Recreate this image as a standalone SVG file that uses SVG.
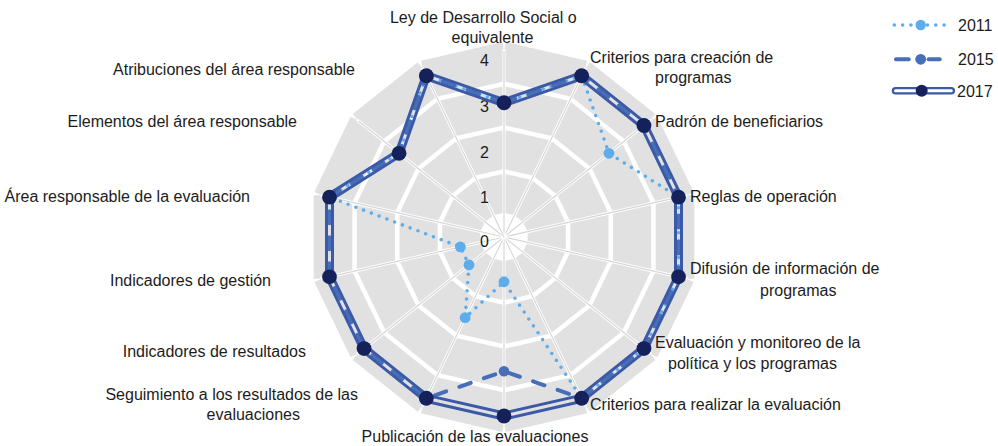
<svg xmlns="http://www.w3.org/2000/svg" xmlns:xlink="http://www.w3.org/1999/xlink" width="998" height="446" viewBox="0 0 998 446">
<style>
  text { font-family: "Liberation Sans", Arial, sans-serif; font-size: 16px; fill: #1c1c1c; }
  .band { fill: #e1e1e1; }
  .spw { stroke: #ffffff; stroke-width: 3; }
  .spg { stroke: #d5d5d5; stroke-width: 1.1; }
  .s11 { fill: none; stroke: #5dadec; stroke-width: 3.6; stroke-linecap: round; stroke-linejoin: round; stroke-dasharray: 0 8.3; }
  .s15 { fill: none; stroke: #466eb9; stroke-width: 4; stroke-linecap: round; stroke-linejoin: round; stroke-dasharray: 12 14; }
  .s17 { fill: none; stroke: #3b59a6; stroke-width: 9; stroke-linejoin: round; stroke-linecap: round; }
  .m11 { fill: #5dadec; }
  .m15 { fill: #466eb9; }
  .m17 { fill: #14215a; }
</style>
<defs>
  <g id="sector">
    <polygon class="band" points="-5.39,-23.6 5.39,-23.6 12.28,-53.8 12.28,-61.8 -12.28,-61.8 -12.28,-53.8"/>
    <polygon class="band" points="-15.13,-66.3 15.13,-66.3 22.03,-96.5 22.03,-104.5 -22.03,-104.5 -22.03,-96.5"/>
    <polygon class="band" points="-24.88,-109 24.88,-109 31.77,-139.2 31.77,-147.2 -31.77,-147.2 -31.77,-139.2"/>
    <polygon class="band" points="-34.62,-151.7 34.62,-151.7 41.63,-182.4 41.63,-190.4 -41.63,-190.4 -41.63,-182.4"/>
  </g>
  <g id="spoke">
    <line class="spw" x1="0" y1="0" x2="0" y2="-188"/>
    <line class="spg" x1="0" y1="0" x2="0" y2="-186"/>
  </g>
  <path id="p17" d="M504,102.75 L581.66,75.73 L643.95,125.4 L678.51,197.17 L678.51,276.83 L643.95,348.6 L581.66,398.27 L504,416 L426.34,398.27 L364.05,348.6 L329.49,276.83 L329.49,197.17 L399.04,153.3 L426.34,75.73 Z"/>
  <mask id="gap17" maskUnits="userSpaceOnUse" x="0" y="0" width="998" height="446">
    <rect x="0" y="0" width="998" height="446" fill="#ffffff"/>
    <use xlink:href="#p17" href="#p17" fill="none" stroke="#000000" stroke-width="3" stroke-linejoin="round"/>
  </mask>
</defs>

<g id="grid">
  <g transform="translate(504,237)">
    <use href="#sector" xlink:href="#sector" transform="rotate(12.857)"/>
    <use href="#sector" xlink:href="#sector" transform="rotate(38.571)"/>
    <use href="#sector" xlink:href="#sector" transform="rotate(64.286)"/>
    <use href="#sector" xlink:href="#sector" transform="rotate(90)"/>
    <use href="#sector" xlink:href="#sector" transform="rotate(115.714)"/>
    <use href="#sector" xlink:href="#sector" transform="rotate(141.429)"/>
    <use href="#sector" xlink:href="#sector" transform="rotate(167.143)"/>
    <use href="#sector" xlink:href="#sector" transform="rotate(192.857)"/>
    <use href="#sector" xlink:href="#sector" transform="rotate(218.571)"/>
    <use href="#sector" xlink:href="#sector" transform="rotate(244.286)"/>
    <use href="#sector" xlink:href="#sector" transform="rotate(270)"/>
    <use href="#sector" xlink:href="#sector" transform="rotate(295.714)"/>
    <use href="#sector" xlink:href="#sector" transform="rotate(321.429)"/>
    <use href="#sector" xlink:href="#sector" transform="rotate(347.143)"/>
    <use href="#spoke" xlink:href="#spoke" transform="rotate(0)"/>
    <use href="#spoke" xlink:href="#spoke" transform="rotate(25.714)"/>
    <use href="#spoke" xlink:href="#spoke" transform="rotate(51.429)"/>
    <use href="#spoke" xlink:href="#spoke" transform="rotate(77.143)"/>
    <use href="#spoke" xlink:href="#spoke" transform="rotate(102.857)"/>
    <use href="#spoke" xlink:href="#spoke" transform="rotate(128.571)"/>
    <use href="#spoke" xlink:href="#spoke" transform="rotate(154.286)"/>
    <use href="#spoke" xlink:href="#spoke" transform="rotate(180)"/>
    <use href="#spoke" xlink:href="#spoke" transform="rotate(205.714)"/>
    <use href="#spoke" xlink:href="#spoke" transform="rotate(231.429)"/>
    <use href="#spoke" xlink:href="#spoke" transform="rotate(257.143)"/>
    <use href="#spoke" xlink:href="#spoke" transform="rotate(282.857)"/>
    <use href="#spoke" xlink:href="#spoke" transform="rotate(308.571)"/>
    <use href="#spoke" xlink:href="#spoke" transform="rotate(334.286)"/>
  </g>
</g>

<g id="scale-labels">
  <text x="489" y="65.5" text-anchor="end">4</text>
  <text x="489" y="111.5" text-anchor="end">3</text>
  <text x="489" y="157.5" text-anchor="end">2</text>
  <text x="489" y="202.5" text-anchor="end">1</text>
  <text x="489" y="246.5" text-anchor="end">0</text>
</g>

<g id="connectors">
  <g id="series-2011">
    <path class="s11" d="M504,102.75 L581.66,75.73 L608.96,153.3 L678.51,197.17 L678.51,276.83 L643.95,348.6 L581.66,398.27 L504,281.75 L465.17,317.64 L469.01,264.9 L460.37,246.96 L329.49,197.17 L399.04,153.3 L426.34,75.73 Z"/>
    <circle class="m11" cx="608.96" cy="153.3" r="5.4"/>
    <circle class="m11" cx="504" cy="281.75" r="5.4"/>
    <circle class="m11" cx="465.17" cy="317.64" r="5.4"/>
    <circle class="m11" cx="469.01" cy="264.9" r="5.4"/>
    <circle class="m11" cx="460.37" cy="246.96" r="5.4"/>
  </g>
  <g id="series-2015">
    <path class="s15" d="M504,102.75 L581.66,75.73 L643.95,125.4 L678.51,197.17 L678.51,276.83 L643.95,348.6 L581.66,398.27 L504,371.25 L426.34,398.27 L364.05,348.6 L329.49,276.83 L329.49,197.17 L399.04,153.3 L426.34,75.73 Z"/>
    <circle class="m15" cx="504" cy="371.25" r="5.3"/>
  </g>
  <g id="series-2017">
    <use href="#p17" xlink:href="#p17" class="s17" mask="url(#gap17)"/>
    <circle class="m17" cx="504" cy="102.75" r="7.4"/>
    <circle class="m17" cx="581.66" cy="75.73" r="7.4"/>
    <circle class="m17" cx="643.95" cy="125.4" r="7.4"/>
    <circle class="m17" cx="678.51" cy="197.17" r="7.4"/>
    <circle class="m17" cx="678.51" cy="276.83" r="7.4"/>
    <circle class="m17" cx="643.95" cy="348.6" r="7.4"/>
    <circle class="m17" cx="581.66" cy="398.27" r="7.4"/>
    <circle class="m17" cx="504" cy="416" r="7.4"/>
    <circle class="m17" cx="426.34" cy="398.27" r="7.4"/>
    <circle class="m17" cx="364.05" cy="348.6" r="7.4"/>
    <circle class="m17" cx="329.49" cy="276.83" r="7.4"/>
    <circle class="m17" cx="329.49" cy="197.17" r="7.4"/>
    <circle class="m17" cx="399.04" cy="153.3" r="7.4"/>
    <circle class="m17" cx="426.34" cy="75.73" r="7.4"/>
  </g>
</g>

<g id="axis-labels">
  <g id="n-ley"><text x="483.3" y="23" text-anchor="middle">Ley de Desarrollo Social o</text><text x="492.5" y="43" text-anchor="middle">equivalente</text></g>
  <g id="n-criterios-creacion"><text x="590" y="63">Criterios para creación de</text><text x="655" y="83">programas</text></g>
  <g id="n-padron"><text x="655" y="127">Padrón de beneficiarios</text></g>
  <g id="n-reglas"><text x="690" y="202">Reglas de operación</text></g>
  <g id="n-difusion"><text x="690" y="274">Difusión de información de</text><text x="760" y="296">programas</text></g>
  <g id="n-evaluacion"><text x="655" y="348">Evaluación y monitoreo de la</text><text x="668" y="369">política y los programas</text></g>
  <g id="n-criterios-realizar"><text x="590" y="410">Criterios para realizar la evaluación</text></g>
  <g id="n-publicacion"><text x="475" y="441.5" text-anchor="middle">Publicación de las evaluaciones</text></g>
  <g id="n-seguimiento"><text x="358" y="400" text-anchor="end">Seguimiento a los resultados de las</text><text x="300" y="420" text-anchor="end">evaluaciones</text></g>
  <g id="n-ind-resultados"><text x="306" y="357" text-anchor="end">Indicadores de resultados</text></g>
  <g id="n-ind-gestion"><text x="271" y="286" text-anchor="end">Indicadores de gestión</text></g>
  <g id="n-area"><text x="250" y="202" text-anchor="end">Área responsable de la evaluación</text></g>
  <g id="n-elementos"><text x="297" y="127" text-anchor="end">Elementos del área responsable</text></g>
  <g id="n-atribuciones"><text x="355" y="75" text-anchor="end">Atribuciones del área responsable</text></g>
</g>

<g id="legend">
  <g id="legend-2011">
    <path class="s11" d="M894.3,25 H949"/>
    <circle class="m11" cx="920.7" cy="25" r="5.2"/>
    <text x="958" y="31">2011</text>
  </g>
  <g id="legend-2015">
    <line x1="896" y1="59.3" x2="908.7" y2="59.3" stroke="#466eb9" stroke-width="4" stroke-linecap="round"/>
    <line x1="928.7" y1="59.3" x2="939.7" y2="59.3" stroke="#466eb9" stroke-width="4" stroke-linecap="round"/>
    <circle class="m15" cx="920.7" cy="59.3" r="5.4"/>
    <text x="958" y="65">2015</text>
  </g>
  <g id="legend-2017">
    <line x1="895.5" y1="90.7" x2="951.3" y2="90.7" stroke="#3b59a6" stroke-width="7.5" stroke-linecap="round"/>
    <line x1="895.5" y1="90.7" x2="951.3" y2="90.7" stroke="#ffffff" stroke-width="3" stroke-linecap="round"/>
    <circle class="m17" cx="921.7" cy="90.7" r="6"/>
    <text x="957" y="97">2017</text>
  </g>
</g>
</svg>
